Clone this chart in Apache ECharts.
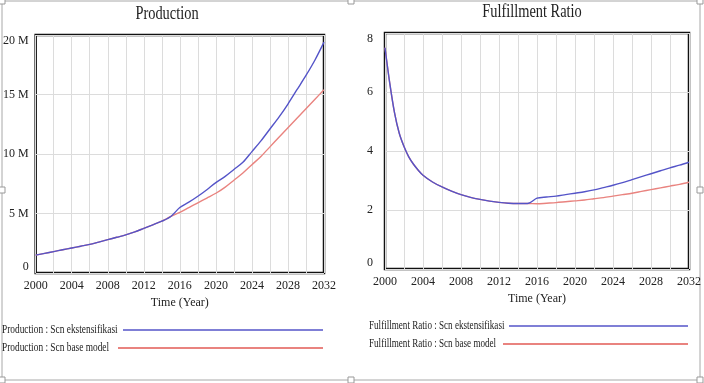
<!DOCTYPE html>
<html>
<head>
<meta charset="utf-8">
<script src="https://cdn.jsdelivr.net/npm/echarts@6/dist/echarts.min.js"></script>
<style>
  html, body { margin: 0; padding: 0; background: #fff; }
  #chart { width: 704px; height: 383px; }
</style>
</head>
<body>
<div id="chart"></div>
<script>
// Production (people) per year, two scenarios
const prodYears = [2000, 2001, 2002, 2003, 2004, 2005, 2006, 2007, 2008, 2009, 2010, 2011, 2012, 2013, 2014, 2015,
  2016, 2017, 2018, 2019, 2020, 2021, 2022, 2023, 2024, 2025, 2026, 2027, 2028, 2029, 2030, 2031, 2032];
const prodExt = [1.5, 1.65, 1.8, 1.95, 2.1, 2.25, 2.4, 2.6, 2.8, 3.0, 3.2, 3.45, 3.75, 4.05, 4.35, 4.75,
  5.5, 5.95, 6.45, 7.0, 7.6, 8.1, 8.7, 9.3, 10.2, 11.1, 12.1, 13.1, 14.2, 15.4, 16.6, 17.9, 19.4];
const prodBase = [1.5, 1.65, 1.8, 1.95, 2.1, 2.25, 2.4, 2.6, 2.8, 3.0, 3.2, 3.45, 3.75, 4.05, 4.35, 4.75,
  5.1, 5.5, 5.9, 6.3, 6.7, 7.2, 7.8, 8.4, 9.1, 9.8, 10.6, 11.4, 12.2, 13.0, 13.8, 14.6, 15.4];

// Fulfillment ratio, finer steps where it drops fast
const ratioYears = [2000, 2000.5, 2001, 2001.5, 2002, 2002.5, 2003, 2003.5, 2004, 2005, 2006, 2007, 2008, 2009,
  2010, 2011, 2012, 2013, 2014, 2015, 2016, 2017, 2018, 2019, 2020, 2021, 2022, 2023, 2024, 2025, 2026,
  2027, 2028, 2029, 2030, 2031, 2032];
const ratioExt = [7.5, 6.3, 5.3, 4.6, 4.15, 3.8, 3.55, 3.35, 3.18, 2.95, 2.78, 2.64, 2.52, 2.43,
  2.36, 2.3, 2.26, 2.23, 2.22, 2.22, 2.4, 2.44, 2.47, 2.52, 2.57, 2.62, 2.68, 2.76, 2.84, 2.93, 3.03,
  3.13, 3.23, 3.33, 3.43, 3.52, 3.62];
const ratioBase = [7.5, 6.3, 5.3, 4.6, 4.15, 3.8, 3.55, 3.35, 3.18, 2.95, 2.78, 2.64, 2.52, 2.43,
  2.36, 2.3, 2.26, 2.23, 2.22, 2.22, 2.21, 2.23, 2.25, 2.28, 2.31, 2.34, 2.38, 2.42, 2.47, 2.52, 2.57,
  2.63, 2.69, 2.75, 2.81, 2.87, 2.94];

const blue = '#5454c8';
const red = '#e9837f';
const serif = '"Liberation Serif", "DejaVu Serif", serif';
const textColor = '#222';

const pairs = (xs, ys, k) => xs.map((x, i) => [x, ys[i] * k]);

const xAxisFor = (gridIndex) => ({
  type: 'value', gridIndex: gridIndex, min: 2000, max: 2032, interval: 2,
  name: 'Time (Year)', nameLocation: 'middle', nameGap: 22,
  nameTextStyle: { fontFamily: serif, fontSize: 12, color: textColor },
  axisLine: { show: false }, axisTick: { show: false },
  axisLabel: {
    fontFamily: serif, fontSize: 12, color: textColor, margin: 7,
    formatter: v => (v % 4 === 0 ? String(v) : '')
  },
  splitLine: { show: true, lineStyle: { color: '#dcdcdc', width: 1 } }
});

// squeezed serif text, the source picture is narrowed sideways
const squeezed = (str, x, y, size, align, sx) => ({
  type: 'text', x: x, y: y, scaleX: sx, silent: true,
  style: { text: str, font: size + 'px ' + serif, fill: textColor, align: align, verticalAlign: 'middle' }
});

const chart = echarts.init(document.getElementById('chart'), null, { renderer: 'canvas' });

// little frame handles round the picture
const handles = [[2, 1], [351, 1], [700, 1], [2, 190], [700, 190], [2, 380], [351, 380], [700, 380]];

chart.setOption({
  animation: false,
  grid: [
    { left: 35, right: 380, top: 35, bottom: 110, show: true, borderColor: '#111', borderWidth: 2.5 },
    { left: 385, right: 15, top: 33, bottom: 114, show: true, borderColor: '#111', borderWidth: 2.5 }
  ],
  xAxis: [xAxisFor(0), xAxisFor(1)],
  yAxis: [
    {
      type: 'value', gridIndex: 0, min: 0, max: 20e6, interval: 5e6,
      axisLine: { show: false }, axisTick: { show: false },
      axisLabel: {
        fontFamily: serif, fontSize: 12, color: textColor, margin: 7,
        formatter: v => (v === 0 ? '0' : v / 1e6 + ' M'),
        verticalAlignMinLabel: 'bottom', verticalAlignMaxLabel: 'top'
      },
      splitLine: { lineStyle: { color: '#dcdcdc', width: 1 } }
    },
    {
      type: 'value', gridIndex: 1, min: 0, max: 8, interval: 2,
      axisLine: { show: false }, axisTick: { show: false },
      axisLabel: {
        fontFamily: serif, fontSize: 12, color: textColor, margin: 12,
        verticalAlignMinLabel: 'bottom', verticalAlignMaxLabel: 'top'
      },
      splitLine: { lineStyle: { color: '#dcdcdc', width: 1 } }
    }
  ],
  series: [
    { name: 'Production : Scn base model', type: 'line', xAxisIndex: 0, yAxisIndex: 0,
      data: pairs(prodYears, prodBase, 1e6), showSymbol: false, smooth: 0.3,
      lineStyle: { color: red, width: 1.4 }, itemStyle: { color: red } },
    { name: 'Production : Scn ekstensifikasi', type: 'line', xAxisIndex: 0, yAxisIndex: 0,
      data: pairs(prodYears, prodExt, 1e6), showSymbol: false, smooth: 0.3,
      lineStyle: { color: blue, width: 1.4 }, itemStyle: { color: blue } },
    { name: 'Fulfillment Ratio : Scn base model', type: 'line', xAxisIndex: 1, yAxisIndex: 1,
      data: pairs(ratioYears, ratioBase, 1), showSymbol: false, smooth: 0.3,
      lineStyle: { color: red, width: 1.4 }, itemStyle: { color: red } },
    { name: 'Fulfillment Ratio : Scn ekstensifikasi', type: 'line', xAxisIndex: 1, yAxisIndex: 1,
      data: pairs(ratioYears, ratioExt, 1), showSymbol: false, smooth: 0.3,
      lineStyle: { color: blue, width: 1.4 }, itemStyle: { color: blue } }
  ],
  graphic: [
    // outer frame
    { type: 'rect', shape: { x: 2, y: 1, width: 698, height: 379 }, silent: true,
      style: { fill: 'none', stroke: '#a8a8a8', lineWidth: 1 } },
    ...handles.map(([x, y]) => ({
      type: 'rect', shape: { x: x - 3, y: y - 3, width: 6, height: 6 }, silent: true,
      style: { fill: '#fff', stroke: '#999', lineWidth: 1 }
    })),
    // titles
    squeezed('Production', 167, 14, 18, 'center', 0.8),
    squeezed('Fulfillment Ratio', 532, 12, 18, 'center', 0.8),
    // legends: text followed by a line sample
    squeezed('Production : Scn ekstensifikasi', 2, 330, 13, 'left', 0.72),
    { type: 'line', shape: { x1: 123, y1: 330, x2: 323, y2: 330 }, style: { stroke: blue, lineWidth: 1.5 } },
    squeezed('Production : Scn base model', 2, 348, 13, 'left', 0.72),
    { type: 'line', shape: { x1: 118, y1: 348, x2: 323, y2: 348 }, style: { stroke: red, lineWidth: 2 } },
    squeezed('Fulfillment Ratio : Scn ekstensifikasi', 369, 326, 13, 'left', 0.7),
    { type: 'line', shape: { x1: 509, y1: 326, x2: 688, y2: 326 }, style: { stroke: blue, lineWidth: 1.5 } },
    squeezed('Fulfillment Ratio : Scn base model', 369, 344, 13, 'left', 0.7),
    { type: 'line', shape: { x1: 503, y1: 344, x2: 688, y2: 344 }, style: { stroke: red, lineWidth: 2 } }
  ]
});
</script>
</body>
</html>
